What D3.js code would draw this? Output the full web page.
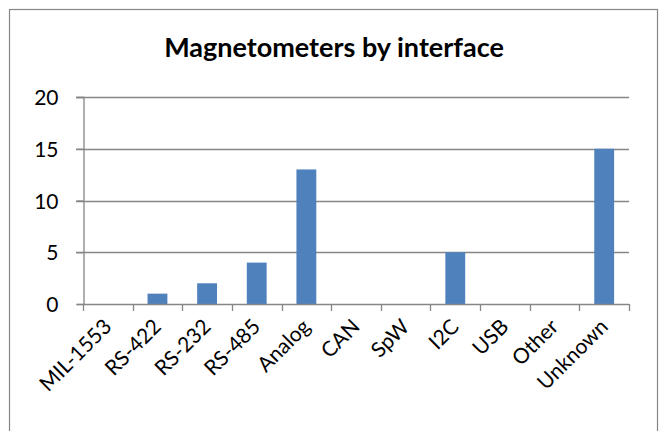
<!DOCTYPE html>
<html>
<head>
<meta charset="utf-8">
<script src="https://cdn.jsdelivr.net/npm/d3@7"></script>
<style>
  body { margin: 0; background: #fff; }
  text { font-family: Lato, "Open Sans", sans-serif; fill: #000; }
</style>
</head>
<body>
<script>
var categories = ['MIL-1553', 'RS-422', 'RS-232', 'RS-485', 'Analog', 'CAN', 'SpW', 'I2C', 'USB', 'Other', 'Unknown'];
var counts = [0, 1, 2, 4, 13, 0, 0, 5, 0, 0, 15];
var yTicks = [0, 5, 10, 15, 20];
var title = 'Magnetometers by interface';

var width = 662, height = 431;
var plot = { left: 83, right: 629, top: 97, bottom: 304 };

var svg = d3.select('body').append('svg')
  .attr('width', width)
  .attr('height', height);

// chart frame
svg.append('rect')
  .attr('x', 9.5).attr('y', 9.5)
  .attr('width', 648).attr('height', 440)
  .attr('fill', '#fff')
  .attr('stroke', '#868686')
  .attr('stroke-width', 1.2);

svg.append('text')
  .attr('x', 334).attr('y', 57)
  .attr('text-anchor', 'middle')
  .style('font-size', '27px')
  .style('font-weight', 'bold')
  .text(title);

var x = d3.scaleBand()
  .domain(categories)
  .range([plot.left, plot.right])
  .paddingInner(0.6)
  .paddingOuter(0.3);

var xEdge = d3.scaleLinear()
  .domain([0, categories.length])
  .range([plot.left, plot.right]);

var y = d3.scaleLinear()
  .domain([0, 20])
  .range([plot.bottom, plot.top]);

// gridlines
svg.append('g').selectAll('line.grid')
  .data(yTicks.filter(function(d) { return d > 0; }))
  .enter().append('line')
  .classed('grid', true)
  .attr('x1', plot.left - 7).attr('x2', plot.right)
  .attr('y1', function(d) { return Math.round(y(d)) + 0.5; })
  .attr('y2', function(d) { return Math.round(y(d)) + 0.5; })
  .attr('stroke', '#868686')
  .attr('stroke-width', 1.3);

// bars
svg.append('g').selectAll('rect.bar')
  .data(counts)
  .enter().append('rect')
  .classed('bar', true)
  .attr('x', function(d, i) { return x(categories[i]); })
  .attr('width', x.bandwidth())
  .attr('y', function(d) { return y(d); })
  .attr('height', function(d) { return y(0) - y(d); })
  .attr('fill', '#4F81BD');

// y axis
var yAxis = svg.append('g')
  .attr('transform', 'translate(' + (plot.left + 0.5) + ',0)')
  .call(d3.axisLeft(y).tickValues(yTicks).tickSize(7).tickPadding(18));
yAxis.select('.domain').attr('stroke', '#868686').attr('stroke-width', 1.3);
yAxis.selectAll('.tick line').attr('stroke', '#868686').attr('stroke-width', 1.3);
yAxis.selectAll('.tick text').style('font-size', '21px').attr('dy', '0.36em');

// x axis line + ticks at category edges
var xg = svg.append('g');
xg.append('line')
  .attr('x1', plot.left).attr('x2', plot.right)
  .attr('y1', plot.bottom + 0.5).attr('y2', plot.bottom + 0.5)
  .attr('stroke', '#868686').attr('stroke-width', 1.3);
xg.selectAll('line.xt')
  .data(d3.range(categories.length + 1))
  .enter().append('line')
  .classed('xt', true)
  .attr('x1', function(d) { return Math.round(xEdge(d)) + 0.5; })
  .attr('x2', function(d) { return Math.round(xEdge(d)) + 0.5; })
  .attr('y1', plot.bottom).attr('y2', plot.bottom + 7)
  .attr('stroke', '#868686').attr('stroke-width', 1.3);

// rotated category labels
var labels = xg.selectAll('g.xl')
  .data(categories)
  .enter().append('g')
  .classed('xl', true)
  .attr('transform', function(d) {
    return 'translate(' + (x(d) + x.bandwidth() / 2 + 5) + ',' + (plot.bottom + 24) + ') rotate(-45)';
  });

labels.append('text')
  .attr('text-anchor', 'end')
  .style('font-size', '21px')
  .text(function(d) { return d; });
</script>
</body>
</html>
